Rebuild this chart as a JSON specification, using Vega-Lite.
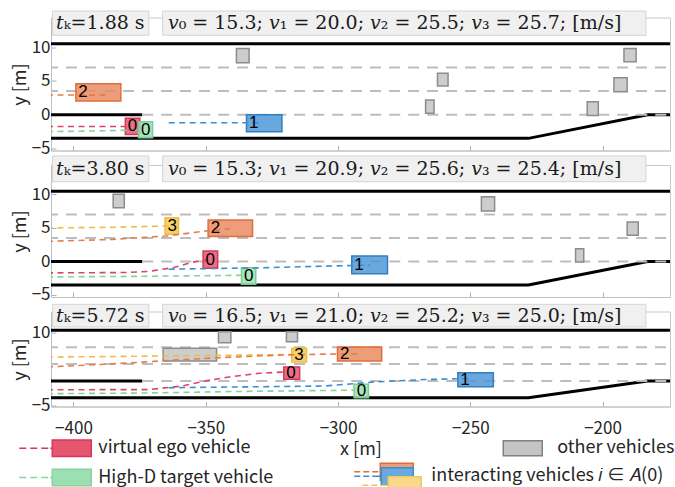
{
  "$schema": "https://vega.github.io/schema/vega-lite/v6.json",
  "padding": {"left": 10, "top": 9.5, "right": 0, "bottom": 0},
  "background": "white",
  "spacing": 14.5,
  "bounds": "flush",
  "config": {
    "view": {"stroke": "#c8c8c8", "strokeWidth": 1},
    "axis": {
      "labelFont": "Noto Sans CJK SC", "labelFontSize": 17, "labelColor": "#262626",
      "titleFont": "Noto Sans CJK SC", "titleFontSize": 18, "titleFontWeight": "normal", "titleColor": "#262626",
      "domainColor": "#c0c0c0", "tickColor": "#b0b0b0", "grid": false, "tickSize": -5
    }
  },
  "datasets": {
    "road": [
      {"line": "top", "x": -410, "y": 10.5}, {"line": "top", "x": -170, "y": 10.5},
      {"line": "bottom", "x": -410, "y": -3.5}, {"line": "bottom", "x": -228, "y": -3.5},
      {"line": "bottom", "x": -183, "y": 0}, {"line": "bottom", "x": -170, "y": 0},
      {"line": "ramp", "x": -410, "y": 0}, {"line": "ramp", "x": -374, "y": 0}
    ],
    "lanes": [
      {"line": "l7", "x": -410, "y": 7}, {"line": "l7", "x": -170, "y": 7},
      {"line": "l35", "x": -410, "y": 3.5}, {"line": "l35", "x": -170, "y": 3.5},
      {"line": "l0", "x": -374, "y": 0}, {"line": "l0", "x": -170, "y": 0}
    ],
    "info": [
      {"panel": 1, "time": "𝑡ₖ=1.88 s", "speeds": "𝑣₀ = 15.3; 𝑣₁ = 20.0; 𝑣₂ = 25.5; 𝑣₃ = 25.7; [m/s]"},
      {"panel": 2, "time": "𝑡ₖ=3.80 s", "speeds": "𝑣₀ = 15.3; 𝑣₁ = 20.9; 𝑣₂ = 25.6; 𝑣₃ = 25.4; [m/s]"},
      {"panel": 3, "time": "𝑡ₖ=5.72 s", "speeds": "𝑣₀ = 16.5; 𝑣₁ = 21.0; 𝑣₂ = 25.2; 𝑣₃ = 25.0; [m/s]"}
    ],
    "vehicles": [
      {"panel": 1, "vehicle": "other vehicles", "x1": -338.4, "x2": -333.6, "y1": 7.71, "y2": 9.79},
      {"panel": 1, "vehicle": "other vehicles", "x1": -262.4, "x2": -258.4, "y1": 4.25, "y2": 6.14},
      {"panel": 1, "vehicle": "other vehicles", "x1": -266.9, "x2": -263.7, "y1": 0.2, "y2": 2.17},
      {"panel": 1, "vehicle": "other vehicles", "x1": -205.8, "x2": -201.6, "y1": -0.1, "y2": 1.92},
      {"panel": 1, "vehicle": "other vehicles", "x1": -195.7, "x2": -190.7, "y1": 3.41, "y2": 5.49},
      {"panel": 1, "vehicle": "other vehicles", "x1": -191.9, "x2": -187.3, "y1": 7.86, "y2": 9.79},
      {"panel": 1, "vehicle": "2", "label": "2", "x1": -399.1, "x2": -382.1, "y1": 2.03, "y2": 4.6, "yc": 3.32},
      {"panel": 1, "vehicle": "1", "label": "1", "x1": -334.6, "x2": -321.2, "y1": -2.53, "y2": 0.0, "yc": -1.27},
      {"panel": 1, "vehicle": "virtual ego vehicle", "label": "0", "x1": -380.4, "x2": -374.9, "y1": -2.92, "y2": -0.54, "yc": -1.73},
      {"panel": 1, "vehicle": "High-D target vehicle", "label": "0", "x1": -375.4, "x2": -370.1, "y1": -3.42, "y2": -1.05, "yc": -2.24},
      {"panel": 2, "vehicle": "other vehicles", "x1": -385.0, "x2": -380.8, "y1": 8.03, "y2": 10.03},
      {"panel": 2, "vehicle": "other vehicles", "x1": -245.8, "x2": -240.8, "y1": 7.54, "y2": 9.67},
      {"panel": 2, "vehicle": "other vehicles", "x1": -190.7, "x2": -186.5, "y1": 3.91, "y2": 5.9},
      {"panel": 2, "vehicle": "other vehicles", "x1": -210.2, "x2": -207.1, "y1": -0.08, "y2": 1.91},
      {"panel": 2, "vehicle": "3", "label": "3", "x1": -365.4, "x2": -360.3, "y1": 4.06, "y2": 6.54, "yc": 5.3},
      {"panel": 2, "vehicle": "2", "label": "2", "x1": -349.1, "x2": -332.3, "y1": 3.73, "y2": 6.19, "yc": 4.96},
      {"panel": 2, "vehicle": "1", "label": "1", "x1": -294.8, "x2": -281.3, "y1": -1.82, "y2": 0.82, "yc": -0.5},
      {"panel": 2, "vehicle": "virtual ego vehicle", "label": "0", "x1": -351.0, "x2": -345.5, "y1": -1.02, "y2": 1.57, "yc": 0.27},
      {"panel": 2, "vehicle": "High-D target vehicle", "label": "0", "x1": -336.5, "x2": -331.1, "y1": -3.41, "y2": -0.93, "yc": -2.17},
      {"panel": 3, "vehicle": "other vehicles", "x1": -345.2, "x2": -340.5, "y1": 7.93, "y2": 10.21},
      {"panel": 3, "vehicle": "other vehicles", "x1": -319.5, "x2": -315.3, "y1": 8.14, "y2": 10.21},
      {"panel": 3, "vehicle": "other vehicles", "x1": -366.1, "x2": -345.9, "y1": 4.13, "y2": 6.77},
      {"panel": 3, "vehicle": "3", "label": "3", "x1": -317.5, "x2": -311.9, "y1": 3.93, "y2": 6.77, "yc": 5.35},
      {"panel": 3, "vehicle": "2", "label": "2", "x1": -300.2, "x2": -283.5, "y1": 4.13, "y2": 7.04, "yc": 5.6},
      {"panel": 3, "vehicle": "1", "label": "1", "x1": -254.7, "x2": -241.3, "y1": -1.19, "y2": 1.71, "yc": 0.26},
      {"panel": 3, "vehicle": "virtual ego vehicle", "label": "0", "x1": -320.5, "x2": -314.5, "y1": 0.34, "y2": 2.89, "yc": 1.6},
      {"panel": 3, "vehicle": "High-D target vehicle", "label": "0", "x1": -293.9, "x2": -288.5, "y1": -3.48, "y2": -0.7, "yc": -2.09}
    ],
    "paths": [
      {"panel": 1, "vehicle": "virtual ego vehicle", "x": -410, "y": -1.75}, {"panel": 1, "vehicle": "virtual ego vehicle", "x": -379, "y": -1.75},
      {"panel": 1, "vehicle": "High-D target vehicle", "x": -410, "y": -2.5}, {"panel": 1, "vehicle": "High-D target vehicle", "x": -390, "y": -2.4}, {"panel": 1, "vehicle": "High-D target vehicle", "x": -375, "y": -2.25},
      {"panel": 1, "vehicle": "2", "x": -410, "y": 2.92}, {"panel": 1, "vehicle": "2", "x": -387, "y": 2.9},
      {"panel": 1, "vehicle": "1", "x": -364, "y": -1.2}, {"panel": 1, "vehicle": "1", "x": -328.5, "y": -1.2},
      {"panel": 2, "vehicle": "3", "x": -410, "y": 5.0}, {"panel": 2, "vehicle": "3", "x": -385, "y": 5.1}, {"panel": 2, "vehicle": "3", "x": -363, "y": 5.3},
      {"panel": 2, "vehicle": "2", "x": -410, "y": 3.0}, {"panel": 2, "vehicle": "2", "x": -385, "y": 3.3}, {"panel": 2, "vehicle": "2", "x": -365, "y": 3.8}, {"panel": 2, "vehicle": "2", "x": -349, "y": 4.6}, {"panel": 2, "vehicle": "2", "x": -341, "y": 4.9},
      {"panel": 2, "vehicle": "virtual ego vehicle", "x": -410, "y": -1.7}, {"panel": 2, "vehicle": "virtual ego vehicle", "x": -380, "y": -1.65}, {"panel": 2, "vehicle": "virtual ego vehicle", "x": -372, "y": -1.5}, {"panel": 2, "vehicle": "virtual ego vehicle", "x": -362, "y": -0.9}, {"panel": 2, "vehicle": "virtual ego vehicle", "x": -355, "y": -0.1}, {"panel": 2, "vehicle": "virtual ego vehicle", "x": -349, "y": 0.3},
      {"panel": 2, "vehicle": "High-D target vehicle", "x": -410, "y": -2.3}, {"panel": 2, "vehicle": "High-D target vehicle", "x": -370, "y": -2.2}, {"panel": 2, "vehicle": "High-D target vehicle", "x": -336, "y": -2.06},
      {"panel": 2, "vehicle": "1", "x": -364, "y": -1.15}, {"panel": 2, "vehicle": "1", "x": -330, "y": -0.95}, {"panel": 2, "vehicle": "1", "x": -295, "y": -0.6}, {"panel": 2, "vehicle": "1", "x": -288, "y": -0.55},
      {"panel": 3, "vehicle": "3", "x": -410, "y": 4.95}, {"panel": 3, "vehicle": "3", "x": -360, "y": 5.2}, {"panel": 3, "vehicle": "3", "x": -316, "y": 5.5},
      {"panel": 3, "vehicle": "2", "x": -410, "y": 2.9}, {"panel": 3, "vehicle": "2", "x": -387, "y": 3.5}, {"panel": 3, "vehicle": "2", "x": -374, "y": 3.9}, {"panel": 3, "vehicle": "2", "x": -360, "y": 4.4}, {"panel": 3, "vehicle": "2", "x": -340, "y": 4.95}, {"panel": 3, "vehicle": "2", "x": -320, "y": 5.4}, {"panel": 3, "vehicle": "2", "x": -300, "y": 5.6}, {"panel": 3, "vehicle": "2", "x": -292, "y": 5.65},
      {"panel": 3, "vehicle": "virtual ego vehicle", "x": -410, "y": -1.82}, {"panel": 3, "vehicle": "virtual ego vehicle", "x": -371.5, "y": -1.8}, {"panel": 3, "vehicle": "virtual ego vehicle", "x": -358.8, "y": -1.05}, {"panel": 3, "vehicle": "virtual ego vehicle", "x": -350.3, "y": 0.0}, {"panel": 3, "vehicle": "virtual ego vehicle", "x": -341.3, "y": 0.82}, {"panel": 3, "vehicle": "virtual ego vehicle", "x": -329.9, "y": 1.58}, {"panel": 3, "vehicle": "virtual ego vehicle", "x": -320.5, "y": 1.85},
      {"panel": 3, "vehicle": "1", "x": -364, "y": -1.4}, {"panel": 3, "vehicle": "1", "x": -330, "y": -1.2}, {"panel": 3, "vehicle": "1", "x": -305, "y": -1.05}, {"panel": 3, "vehicle": "1", "x": -286, "y": -0.2}, {"panel": 3, "vehicle": "1", "x": -267, "y": 0.3}, {"panel": 3, "vehicle": "1", "x": -255, "y": 0.45}, {"panel": 3, "vehicle": "1", "x": -250, "y": 0.45},
      {"panel": 3, "vehicle": "High-D target vehicle", "x": -410, "y": -2.65}, {"panel": 3, "vehicle": "High-D target vehicle", "x": -372, "y": -2.5}, {"panel": 3, "vehicle": "High-D target vehicle", "x": -340, "y": -2.2}, {"panel": 3, "vehicle": "High-D target vehicle", "x": -300, "y": -1.95}, {"panel": 3, "vehicle": "High-D target vehicle", "x": -294, "y": -1.9}
    ]
  },
  "resolve": {"scale": {"x": "independent", "y": "independent", "fill": "shared", "stroke": "shared", "color": "shared", "opacity": "shared"}},
  "vconcat": [
    {
      "width": 619, "height": 133,
      "layer": [
        {"data": {"name": "road"}, "mark": {"type": "line", "color": "black", "strokeWidth": 3, "clip": true},
         "encoding": {
           "x": {"field": "x", "type": "quantitative", "scale": {"domain": [-408.5, -174.5], "nice": false, "zero": false}, "axis": {"title": null, "labels": false, "values": [-400, -350, -300, -250, -200]}},
           "y": {"field": "y", "type": "quantitative", "scale": {"domain": [-5.3, 14.4], "nice": false, "zero": false}, "axis": {"title": "y [m]", "values": [-5, 0, 5, 10], "labelPadding": 6, "titlePadding": 2}},
           "detail": {"field": "line"}}},
        {"data": {"name": "lanes"}, "mark": {"type": "line", "color": "#bdbdbd", "strokeWidth": 2, "strokeDash": [11, 8], "clip": true},
         "encoding": {"x": {"field": "x", "type": "quantitative"}, "y": {"field": "y", "type": "quantitative"}, "detail": {"field": "line"}}},
        {"data": {"name": "vehicles"}, "transform": [{"filter": "datum.panel == 1"}],
         "mark": {"type": "rect", "fillOpacity": 0.85, "strokeWidth": 1.5},
         "encoding": {
           "x": {"field": "x1", "type": "quantitative"}, "x2": {"field": "x2"},
           "y": {"field": "y1", "type": "quantitative"}, "y2": {"field": "y2"},
           "fill": {"field": "vehicle", "type": "nominal",
             "scale": {"domain": ["virtual ego vehicle", "High-D target vehicle", "other vehicles", "1", "2", "3"], "range": ["#e5566f", "#9bdfb2", "#c4c4c4", "#4f98d6", "#e98c62", "#f5c850"]},
             "legend": {
               "orient": "none", "legendX": 19.25, "legendY": 419.75, "title": null, "padding": 0,
               "direction": "vertical", "columns": 2, "columnPadding": 227, "rowPadding": -0.7,
               "values": ["virtual ego vehicle", "High-D target vehicle", "other vehicles"],
               "symbolSize": 400, "symbolStrokeWidth": 1.5, "labelOffset": 6, "labelLimit": 400,
               "labelFont": "Noto Sans CJK SC", "labelFontSize": 18, "labelColor": "#262626", "symbolDash": [],
               "encode": {"symbols": {"update": {
                 "shape": {"signal": "datum.value === 'other vehicles' ? 'M-3.7,-0.75h3.9v1.5h-3.9zM0,-1.2M0,1.2' : 'M-6.2,0h0.7M-5.1,0h0.7M-4.0,0h0.7M-3.1,0h0.3M-2.9,-0.83h3.9v1.66h-3.9zM0,-1.2M0,1.2'"},
                 "fill": {"signal": "datum.value === 'virtual ego vehicle' ? '#e96f84' : datum.value === 'High-D target vehicle' ? '#a8e2bb' : '#c8c8c8'"},
                 "stroke": {"signal": "datum.value === 'virtual ego vehicle' ? '#d8375a' : datum.value === 'High-D target vehicle' ? '#86d5a0' : '#808080'"},
                 "opacity": {"value": 1}, "fillOpacity": {"value": 1}, "strokeWidth": {"value": 1.5}
               }}}
             }},
           "stroke": {"field": "vehicle", "type": "nominal",
             "scale": {"domain": ["2", "1", "3", "virtual ego vehicle", "High-D target vehicle", "other vehicles"], "range": ["#df6f3e", "#2f80c4", "#efbd45", "#d8375a", "#79cf95", "#8c8c8c"]},
             "legend": {
               "orient": "none", "legendX": 351.25, "legendY": 443.25, "title": null, "padding": 0,
               "values": ["2"], "labelExpr": "''",
               "symbolSize": 400, "symbolStrokeWidth": 1.5, "labelOffset": 6, "labelLimit": 400,
               "symbolFillColor": "#ec9d7a", "symbolStrokeColor": "#e07a4c", "symbolOpacity": 1,
               "labelFont": "Noto Sans CJK SC", "labelFontSize": 18, "symbolDash": [],
               "encode": {"symbols": {"update": {
                 "shape": {"value": "M-5.9,0h0.6M-5.0,0h0.6M-4.1,0h0.6M-3.3,-0.85h3.3v1.7h-3.3zM0,-1.2M0,1.2"},
                 "fill": {"value": "#ec9d7a"}, "stroke": {"value": "#e07a4c"},
                 "opacity": {"value": 1}, "fillOpacity": {"value": 1}, "strokeWidth": {"value": 1.5}
               }}}
             }}
         }},
        {"data": {"name": "paths"}, "transform": [{"filter": "datum.panel == 1"}],
         "mark": {"type": "line", "strokeDash": [6, 4.5], "strokeWidth": 1.6, "clip": true},
         "encoding": {
           "x": {"field": "x", "type": "quantitative"}, "y": {"field": "y", "type": "quantitative"},
           "color": {"field": "vehicle", "type": "nominal",
             "scale": {"domain": ["3", "2", "1", "virtual ego vehicle", "High-D target vehicle", "other vehicles"], "range": ["#efbd45", "#e47c4c", "#3a8ed0", "#dc4466", "#80d49c", "#8c8c8c"]},
             "legend": {
               "orient": "none", "legendX": 352.25, "legendY": 447.75, "title": null, "padding": 0,
               "values": ["1"], "labelExpr": "'interacting vehicles 𝑖 ∈ 𝐴(0)'",
               "symbolSize": 400, "symbolStrokeWidth": 1.5, "labelOffset": 6, "labelLimit": 400,
               "symbolFillColor": "#6aa9de", "symbolStrokeColor": "#2f80c4", "symbolOpacity": 1,
               "labelFont": "Noto Sans CJK SC", "labelFontSize": 18, "labelColor": "#262626", "symbolDash": [],
               "encode": {"symbols": {"update": {
                 "shape": {"value": "M-6.0,0h0.6M-5.1,0h0.6M-4.2,0h0.9M-3.3,-0.85h3.2v1.7h-3.2zM0,-1.2M0,1.2"},
                 "fill": {"value": "#6aa9de"}, "stroke": {"value": "#2f80c4"}, "strokeDash": {"value": []},
                 "opacity": {"value": 1}, "fillOpacity": {"value": 1}, "strokeWidth": {"value": 1.5}
               }}}
             }},
           "opacity": {"field": "vehicle", "type": "nominal",
             "scale": {"domain": ["1", "3", "2", "virtual ego vehicle", "High-D target vehicle", "other vehicles"], "range": [1, 1, 1, 1, 1, 1]},
             "legend": {
               "orient": "none", "legendX": 359.25, "legendY": 456.75, "title": null, "padding": 0,
               "values": ["3"], "labelExpr": "''",
               "symbolSize": 400, "symbolStrokeWidth": 1.5, "labelOffset": 6, "labelLimit": 400,
               "symbolFillColor": "#f8d98b", "symbolStrokeColor": "#f0c860", "symbolOpacity": 1,
               "labelFont": "Noto Sans CJK SC", "labelFontSize": 18, "symbolDash": [],
               "encode": {"symbols": {"update": {
                 "shape": {"value": "M-5.9,0h0.6M-5.0,0h0.6M-4.1,0h0.8M-3.3,-0.85h3.3v1.7h-3.3zM0,-1.2M0,1.2"},
                 "fill": {"value": "#f8d98b"}, "stroke": {"value": "#f0c860"}, "strokeDash": {"value": []},
                 "opacity": {"value": 1}, "fillOpacity": {"value": 1}, "strokeWidth": {"value": 1.5}
               }}}
             }},
           "detail": {"field": "vehicle"}}},
        {"data": {"name": "vehicles"}, "transform": [{"filter": "datum.panel == 1 && isValid(datum.label)"}],
         "mark": {"type": "text", "align": "left", "baseline": "middle", "dx": 2.5, "font": "Liberation Sans", "fontSize": 17, "color": "black"},
         "encoding": {"x": {"field": "x1", "type": "quantitative"}, "y": {"field": "yc", "type": "quantitative"}, "text": {"field": "label"}}},
        {"data": {"name": "info"}, "transform": [{"filter": "datum.panel == 1"}],
         "mark": {"type": "rect", "fill": "#f0f0f0", "stroke": "#d4d4d4", "strokeWidth": 1},
         "encoding": {"x": {"datum": -407.9, "type": "quantitative"}, "x2": {"datum": -371.5}, "y": {"datum": 15.36, "type": "quantitative"}, "y2": {"datum": 11.76}}},
        {"data": {"name": "info"}, "transform": [{"filter": "datum.panel == 1"}],
         "mark": {"type": "rect", "fill": "#f0f0f0", "stroke": "#d4d4d4", "strokeWidth": 1},
         "encoding": {"x": {"datum": -366.3, "type": "quantitative"}, "x2": {"datum": -183.6}, "y": {"datum": 15.36, "type": "quantitative"}, "y2": {"datum": 11.76}}},
        {"data": {"name": "info"}, "transform": [{"filter": "datum.panel == 1"}],
         "mark": {"type": "text", "align": "left", "baseline": "middle", "font": "DejaVu Serif", "fontSize": 19, "color": "#1a1a1a"},
         "encoding": {"x": {"datum": -406.6, "type": "quantitative"}, "y": {"datum": 13.59, "type": "quantitative"}, "text": {"field": "time"}}},
        {"data": {"name": "info"}, "transform": [{"filter": "datum.panel == 1"}],
         "mark": {"type": "text", "align": "left", "baseline": "middle", "font": "DejaVu Serif", "fontSize": 19, "color": "#1a1a1a"},
         "encoding": {"x": {"datum": -364.3, "type": "quantitative"}, "y": {"datum": 13.59, "type": "quantitative"}, "text": {"field": "speeds"}}}
      ]
    },
    {
      "width": 619, "height": 132,
      "layer": [
        {"data": {"name": "road"}, "mark": {"type": "line", "color": "black", "strokeWidth": 3, "clip": true},
         "encoding": {
           "x": {"field": "x", "type": "quantitative", "scale": {"domain": [-408.5, -174.5], "nice": false, "zero": false}, "axis": {"title": null, "labels": false, "values": [-400, -350, -300, -250, -200]}},
           "y": {"field": "y", "type": "quantitative", "scale": {"domain": [-5.3, 14.4], "nice": false, "zero": false}, "axis": {"title": "y [m]", "values": [-5, 0, 5, 10], "labelPadding": 6, "titlePadding": 2}},
           "detail": {"field": "line"}}},
        {"data": {"name": "lanes"}, "mark": {"type": "line", "color": "#bdbdbd", "strokeWidth": 2, "strokeDash": [11, 8], "clip": true},
         "encoding": {"x": {"field": "x", "type": "quantitative"}, "y": {"field": "y", "type": "quantitative"}, "detail": {"field": "line"}}},
        {"data": {"name": "vehicles"}, "transform": [{"filter": "datum.panel == 2"}],
         "mark": {"type": "rect", "fillOpacity": 0.85, "strokeWidth": 1.5},
         "encoding": {
           "x": {"field": "x1", "type": "quantitative"}, "x2": {"field": "x2"},
           "y": {"field": "y1", "type": "quantitative"}, "y2": {"field": "y2"},
           "fill": {"field": "vehicle", "type": "nominal", "scale": {"domain": ["virtual ego vehicle", "High-D target vehicle", "other vehicles", "1", "2", "3"], "range": ["#e5566f", "#9bdfb2", "#c4c4c4", "#4f98d6", "#e98c62", "#f5c850"]}, "legend": null},
           "stroke": {"field": "vehicle", "type": "nominal", "scale": {"domain": ["2", "1", "3", "virtual ego vehicle", "High-D target vehicle", "other vehicles"], "range": ["#df6f3e", "#2f80c4", "#efbd45", "#d8375a", "#79cf95", "#8c8c8c"]}, "legend": null}
         }},
        {"data": {"name": "paths"}, "transform": [{"filter": "datum.panel == 2"}],
         "mark": {"type": "line", "strokeDash": [6, 4.5], "strokeWidth": 1.6, "clip": true},
         "encoding": {
           "x": {"field": "x", "type": "quantitative"}, "y": {"field": "y", "type": "quantitative"},
           "color": {"field": "vehicle", "type": "nominal", "scale": {"domain": ["3", "2", "1", "virtual ego vehicle", "High-D target vehicle", "other vehicles"], "range": ["#efbd45", "#e47c4c", "#3a8ed0", "#dc4466", "#80d49c", "#8c8c8c"]}, "legend": null},
           "detail": {"field": "vehicle"}}},
        {"data": {"name": "vehicles"}, "transform": [{"filter": "datum.panel == 2 && isValid(datum.label)"}],
         "mark": {"type": "text", "align": "left", "baseline": "middle", "dx": 2.5, "font": "Liberation Sans", "fontSize": 17, "color": "black"},
         "encoding": {"x": {"field": "x1", "type": "quantitative"}, "y": {"field": "yc", "type": "quantitative"}, "text": {"field": "label"}}},
        {"data": {"name": "info"}, "transform": [{"filter": "datum.panel == 2"}],
         "mark": {"type": "rect", "fill": "#f0f0f0", "stroke": "#d4d4d4", "strokeWidth": 1},
         "encoding": {"x": {"datum": -407.9, "type": "quantitative"}, "x2": {"datum": -371.5}, "y": {"datum": 15.74, "type": "quantitative"}, "y2": {"datum": 11.91}}},
        {"data": {"name": "info"}, "transform": [{"filter": "datum.panel == 2"}],
         "mark": {"type": "rect", "fill": "#f0f0f0", "stroke": "#d4d4d4", "strokeWidth": 1},
         "encoding": {"x": {"datum": -366.3, "type": "quantitative"}, "x2": {"datum": -183.6}, "y": {"datum": 15.74, "type": "quantitative"}, "y2": {"datum": 11.91}}},
        {"data": {"name": "info"}, "transform": [{"filter": "datum.panel == 2"}],
         "mark": {"type": "text", "align": "left", "baseline": "middle", "font": "DejaVu Serif", "fontSize": 19, "color": "#1a1a1a"},
         "encoding": {"x": {"datum": -406.6, "type": "quantitative"}, "y": {"datum": 13.82, "type": "quantitative"}, "text": {"field": "time"}}},
        {"data": {"name": "info"}, "transform": [{"filter": "datum.panel == 2"}],
         "mark": {"type": "text", "align": "left", "baseline": "middle", "font": "DejaVu Serif", "fontSize": 19, "color": "#1a1a1a"},
         "encoding": {"x": {"datum": -364.3, "type": "quantitative"}, "y": {"datum": 13.82, "type": "quantitative"}, "text": {"field": "speeds"}}}
      ]
    },
    {
      "width": 619, "height": 95,
      "layer": [
        {"data": {"name": "road"}, "mark": {"type": "line", "color": "black", "strokeWidth": 3, "clip": true},
         "encoding": {
           "x": {"field": "x", "type": "quantitative", "scale": {"domain": [-408.5, -174.5], "nice": false, "zero": false}, "axis": {"title": "x [m]", "values": [-400, -350, -300, -250, -200], "labelPadding": 19, "titlePadding": 4}},
           "y": {"field": "y", "type": "quantitative", "scale": {"domain": [-5.3, 14.4], "nice": false, "zero": false}, "axis": {"title": "y [m]", "values": [-5, 0, 5, 10], "labelPadding": 6, "titlePadding": 2}},
           "detail": {"field": "line"}}},
        {"data": {"name": "lanes"}, "mark": {"type": "line", "color": "#bdbdbd", "strokeWidth": 2, "strokeDash": [11, 8], "clip": true},
         "encoding": {"x": {"field": "x", "type": "quantitative"}, "y": {"field": "y", "type": "quantitative"}, "detail": {"field": "line"}}},
        {"data": {"name": "vehicles"}, "transform": [{"filter": "datum.panel == 3"}],
         "mark": {"type": "rect", "fillOpacity": 0.85, "strokeWidth": 1.5},
         "encoding": {
           "x": {"field": "x1", "type": "quantitative"}, "x2": {"field": "x2"},
           "y": {"field": "y1", "type": "quantitative"}, "y2": {"field": "y2"},
           "fill": {"field": "vehicle", "type": "nominal", "scale": {"domain": ["virtual ego vehicle", "High-D target vehicle", "other vehicles", "1", "2", "3"], "range": ["#e5566f", "#9bdfb2", "#c4c4c4", "#4f98d6", "#e98c62", "#f5c850"]}, "legend": null},
           "stroke": {"field": "vehicle", "type": "nominal", "scale": {"domain": ["2", "1", "3", "virtual ego vehicle", "High-D target vehicle", "other vehicles"], "range": ["#df6f3e", "#2f80c4", "#efbd45", "#d8375a", "#79cf95", "#8c8c8c"]}, "legend": null}
         }},
        {"data": {"name": "paths"}, "transform": [{"filter": "datum.panel == 3"}],
         "mark": {"type": "line", "strokeDash": [6, 4.5], "strokeWidth": 1.6, "clip": true},
         "encoding": {
           "x": {"field": "x", "type": "quantitative"}, "y": {"field": "y", "type": "quantitative"},
           "color": {"field": "vehicle", "type": "nominal", "scale": {"domain": ["3", "2", "1", "virtual ego vehicle", "High-D target vehicle", "other vehicles"], "range": ["#efbd45", "#e47c4c", "#3a8ed0", "#dc4466", "#80d49c", "#8c8c8c"]}, "legend": null},
           "detail": {"field": "vehicle"}}},
        {"data": {"name": "vehicles"}, "transform": [{"filter": "datum.panel == 3 && isValid(datum.label)"}],
         "mark": {"type": "text", "align": "left", "baseline": "middle", "dx": 2.5, "font": "Liberation Sans", "fontSize": 17, "color": "black"},
         "encoding": {"x": {"field": "x1", "type": "quantitative"}, "y": {"field": "yc", "type": "quantitative"}, "text": {"field": "label"}}},
        {"data": {"name": "info"}, "transform": [{"filter": "datum.panel == 3"}],
         "mark": {"type": "rect", "fill": "#f0f0f0", "stroke": "#d4d4d4", "strokeWidth": 1},
         "encoding": {"x": {"datum": -407.9, "type": "quantitative"}, "x2": {"datum": -371.5}, "y": {"datum": 15.89, "type": "quantitative"}, "y2": {"datum": 11.19}}},
        {"data": {"name": "info"}, "transform": [{"filter": "datum.panel == 3"}],
         "mark": {"type": "rect", "fill": "#f0f0f0", "stroke": "#d4d4d4", "strokeWidth": 1},
         "encoding": {"x": {"datum": -366.3, "type": "quantitative"}, "x2": {"datum": -183.6}, "y": {"datum": 15.89, "type": "quantitative"}, "y2": {"datum": 11.19}}},
        {"data": {"name": "info"}, "transform": [{"filter": "datum.panel == 3"}],
         "mark": {"type": "text", "align": "left", "baseline": "middle", "font": "DejaVu Serif", "fontSize": 19, "color": "#1a1a1a"},
         "encoding": {"x": {"datum": -406.6, "type": "quantitative"}, "y": {"datum": 13.53, "type": "quantitative"}, "text": {"field": "time"}}},
        {"data": {"name": "info"}, "transform": [{"filter": "datum.panel == 3"}],
         "mark": {"type": "text", "align": "left", "baseline": "middle", "font": "DejaVu Serif", "fontSize": 19, "color": "#1a1a1a"},
         "encoding": {"x": {"datum": -364.3, "type": "quantitative"}, "y": {"datum": 13.53, "type": "quantitative"}, "text": {"field": "speeds"}}}
      ]
    }
  ]
}
